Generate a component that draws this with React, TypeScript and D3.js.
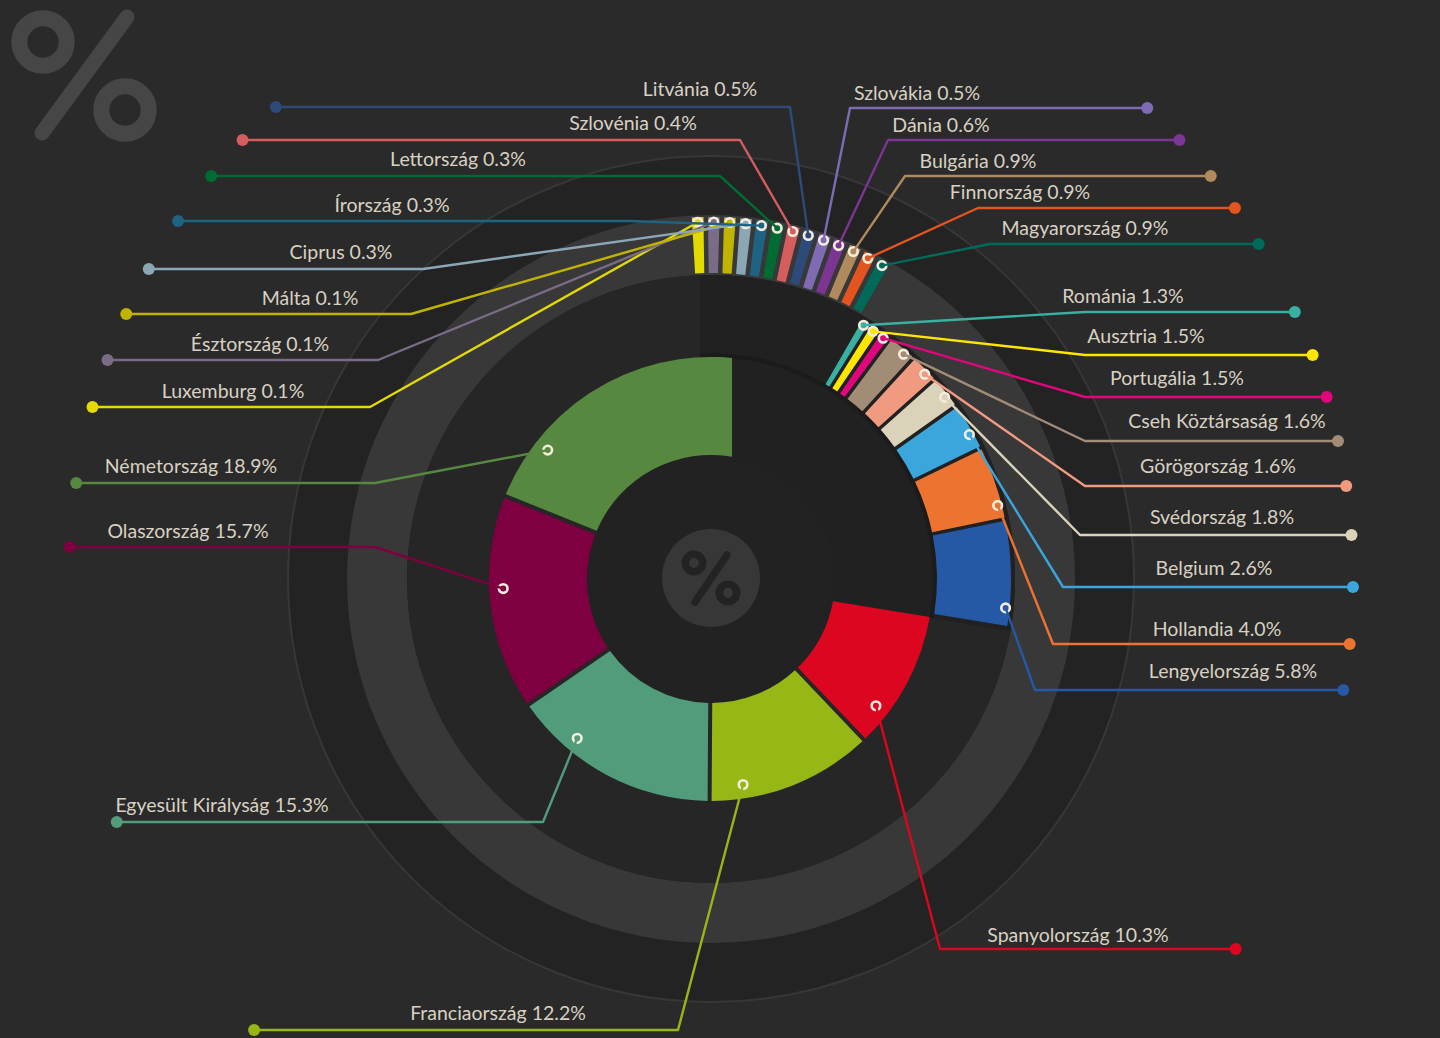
import * as d3 from 'd3'

// EU shares, ascending, clockwise from 12 o'clock
const countries = [
  'Luxemburg', 'Észtország', 'Málta', 'Ciprus', 'Írország', 'Lettország', 'Szlovénia',
  'Litvánia', 'Szlovákia', 'Dánia', 'Bulgária', 'Finnország', 'Magyarország', 'Románia',
  'Ausztria', 'Portugália', 'Cseh Köztársaság', 'Görögország', 'Svédország', 'Belgium',
  'Hollandia', 'Lengyelország', 'Spanyolország', 'Franciaország', 'Egyesült Királyság',
  'Olaszország', 'Németország',
]
const shares = [
  0.1, 0.1, 0.1, 0.3, 0.3, 0.3, 0.4, 0.5, 0.5, 0.6, 0.9, 0.9, 0.9, 1.3, 1.5, 1.5, 1.6, 1.6,
  1.8, 2.6, 4.0, 5.8, 10.3, 12.2, 15.3, 15.7, 18.9,
]
const colors = [
  '#e2da00', '#7a6b86', '#c1b400', '#8ba7b6', '#1f6382', '#006b33', '#d65d5e', '#2d4a78',
  '#7f6ab4', '#7c3592', '#b08a5c', '#e4541f', '#006a5a', '#38b1a3', '#ffe600', '#df077b',
  '#a38c76', '#f09a80', '#dbd2ba', '#3ba6db', '#ec7430', '#2558a5', '#dc0620', '#96b716',
  '#519c7b', '#7f0040', '#56883f',
]

// label layout: line y, elbow x, text centre x, text baseline y, marker position along the slice
const labelLineY = [407, 360, 314, 269, 221, 176, 140, 107, 108, 140, 176, 208, 244, 312, 355, 397, 441, 486, 535, 587, 644, 690, 949, 1030, 822, 547, 483]
const labelElbowX = [370, 378, 411, 423, 630, 720, 740, 790, 850, 888, 905, 978, 990, 1085, 1085, 1085, 1085, 1085, 1080, 1063, 1053, 1035, 940, 678, 543, 375, 375]
const labelTextX = [233, 260, 310, 341, 392, 458, 633, 700, 917, 941, 978, 1020, 1085, 1123, 1146, 1177, 1227, 1218, 1222, 1214, 1217, 1233, 1078, 498, 222, 188, 191]
const labelTextY = [398, 351, 305, 259, 212, 166, 130, 96, 100, 132, 168, 199, 235, 303, 343, 385, 428, 473, 524, 575, 636, 678, 942, 1020, 812, 538, 473]
const markerAt = [0.5, 0.5, 0.5, 0.5, 0.5, 0.5, 0.5, 0.5, 0.5, 0.5, 0.5, 0.5, 0.5, 0.5, 0.5, 0.5, 0.67, 0.65, 0.6, 0.65, 0.8, 0.82, 0.76, 0.79, 0.72, 0.565, 0.24]

const W = 1440
const H = 1038
const cx = 711
const cy = 579
const deg = Math.PI / 180
const labelR = 642

const pt = (a: number, r: number): [number, number] => [cx + r * Math.sin(a), cy - r * Math.cos(a)]

export default function App() {
  const total = d3.sum(shares)
  const arcs = d3.pie<number>().sort(null).value((d) => d)(shares)
  const cum = Array.from(d3.cumsum(shares))
  const cumStart = (i: number) => cum[i] - shares[i]

  const idx = d3.range(shares.length)
  const topIdx = idx.filter((i) => shares[i] < 1)
  const midIdx = idx.filter((i) => shares[i] >= 1 && shares[i] < 10)
  const bigIdx = idx.filter((i) => shares[i] >= 10)

  // small ones get equal slots on the outer ring
  const band = d3.scaleBand<number>().domain(topIdx).range([-3.4 * deg, 29.9 * deg])
  // mid ones keep their true angle, the thinnest are squeezed in after the outer ring
  const firstFull = midIdx.find((i) => shares[i] >= 1.6) as number
  const midAngle = d3
    .scaleLinear()
    .domain([cumStart(midIdx[0]), cumStart(firstFull), total])
    .range([30 * deg, (cumStart(firstFull) / total) * 2 * Math.PI, 2 * Math.PI])

  const bigArc = d3.arc<any>().innerRadius(124).outerRadius(222).padAngle(4 / 200).padRadius(200)
  const midArc = d3.arc<any>().innerRadius(226).outerRadius(300).padAngle(3.5 / 260).padRadius(260)
  const topArc = d3.arc<any>().innerRadius(306).outerRadius(362).padAngle(4.5 / 335).padRadius(335)

  const lastBig = bigIdx[bigIdx.length - 1]
  const segs = idx.map((i) => {
    if (shares[i] >= 10) {
      const s = arcs[i].startAngle
      const e = arcs[i].endAngle + (i === lastBig ? 12 * deg : 0)
      return { i, s, e, gen: bigArc, mr: 208, ms: s, me: arcs[i].endAngle }
    }
    if (shares[i] >= 1) {
      const s = midAngle(cumStart(i))
      const e = midAngle(cum[i])
      return { i, s, e, gen: midArc, mr: 296, ms: s, me: e }
    }
    const s = band(i) as number
    const e = s + band.bandwidth()
    return { i, s, e, gen: topArc, mr: 357, ms: s, me: e }
  })

  const wedgeEnd = arcs[bigIdx[0]].startAngle + 0.6 * deg
  const wedge = d3.arc<any>()({ innerRadius: 0, outerRadius: 304, startAngle: -12 * deg, endAngle: wedgeEnd })
  const wedgeLine = d3.arc<any>()({ innerRadius: 222, outerRadius: 226, startAngle: -12 * deg, endAngle: wedgeEnd })
  const ring = d3.arc<any>()({ innerRadius: 304, outerRadius: 364, startAngle: 0, endAngle: 2 * Math.PI })

  return (
    <svg
      width={W}
      height={H}
      style={{ position: 'absolute', left: 0, top: 0, background: '#2a2a2a' }}
      fontFamily="Lato, 'Noto Sans', sans-serif"
    >
      <defs>
        {/* clip rects are in the chart's centred coordinates */}
        <clipPath id="wedgeClip">
          <rect x={-11} y={-H} width={W} height={2 * H} />
        </clipPath>
        <clipPath id="bigClip">
          <rect x={-W} y={-H} width={W + 21} height={2 * H} />
        </clipPath>
      </defs>
      <rect width={W} height={H} fill="#2a2a2a" />

      {/* big % sign */}
      <g stroke="#464646" fill="none">
        <circle cx={43} cy={42} r={23.7} strokeWidth={16} />
        <circle cx={125} cy={110} r={23.7} strokeWidth={16} />
        <line x1={127} y1={17} x2={42} y2={133} strokeWidth={15} strokeLinecap="round" />
      </g>

      {/* backdrop rings */}
      <circle cx={cx} cy={cy} r={423} fill="#232323" stroke="#373737" strokeWidth={2} />
      <g transform={`translate(${cx},${cy})`}>
        <path d={ring as string} fill="#383838" />
        <circle r={304} fill="#262626" />
        <g clipPath="url(#wedgeClip)">
          <path d={wedge as string} fill="#212121" />
          <path d={wedgeLine as string} fill="#1b1b1b" />
        </g>
        <circle r={124} fill="#222222" />

        {/* slices */}
        {segs.map((d) => (
          <path
            key={countries[d.i]}
            d={d.gen({ startAngle: d.s, endAngle: d.e }) as string}
            fill={colors[d.i]}
            clipPath={d.i === lastBig ? 'url(#bigClip)' : undefined}
          />
        ))}
      </g>

      {/* centre badge */}
      <circle cx={cx} cy={578} r={49} fill="#373737" />
      <g stroke="#232323" fill="none" strokeWidth={7.5}>
        <circle cx={694} cy={563} r={8.7} />
        <circle cx={728} cy={593} r={8.7} />
        <line x1={727} y1={555} x2={695} y2={602} strokeLinecap="round" />
      </g>

      {/* markers, leader lines, labels */}
      {segs.map((d) => {
        const i = d.i
        const a = d.ms + markerAt[i] * (d.me - d.ms)
        const [mx, my] = pt(a, d.mr)
        const left = labelTextX[i] < cx
        const dy = labelLineY[i] - cy
        const dx = Math.sqrt(labelR * labelR - dy * dy)
        const dotX = left ? cx - dx : cx + dx
        const ly = labelLineY[i]
        return (
          <g key={'l' + countries[i]}>
            <circle cx={mx} cy={my} r={4.3} fill="none" stroke="#f4ecdd" strokeWidth={2.6} />
            <path
              d={`M${mx},${my}L${labelElbowX[i]},${ly}L${dotX},${ly}`}
              fill="none"
              stroke={colors[i]}
              strokeWidth={2.4}
              strokeLinejoin="round"
            />
            <circle cx={dotX} cy={ly} r={6} fill={colors[i]} />
            <text
              x={labelTextX[i]}
              y={labelTextY[i]}
              textAnchor="middle"
              fontSize={19.5}
              fill="#d8d1c2"
            >
              {`${countries[i]} ${shares[i].toFixed(1)}%`}
            </text>
          </g>
        )
      })}
    </svg>
  )
}
